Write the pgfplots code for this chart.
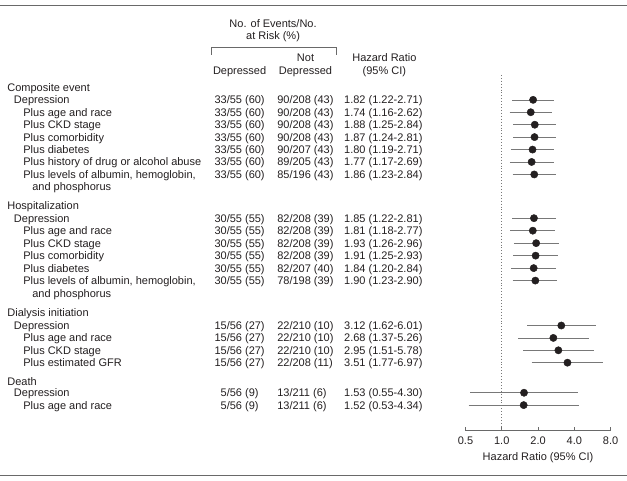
\documentclass[border=0pt]{standalone}
\usepackage{pgfplots}
\pgfplotsset{compat=1.18}
\usepackage{fontspec}
\setmainfont{Liberation Sans}
\definecolor{cigray}{RGB}{120,120,120}
\definecolor{rulegray}{RGB}{105,105,105}
\definecolor{txt}{RGB}{35,31,32}

% one text row of the table: y, indent, label, depressed, not depressed, HR
\newcommand{\rowtxt}[6]{%
  \node[lab, anchor=base west] at (#2,#1-4) {#3};
  \node[lab, anchor=base] at (239.5,#1-4) {#4};
  \node[lab, anchor=base west] at (277,#1-4) {#5};
  \node[lab, anchor=base west] at (344,#1-4) {#6};}
% confidence interval segment: y, lower, upper
\newcommand{\ci}[3]{\addplot[cigray, line width=0.6pt] coordinates {(#2,#1) (#3,#1)};}

\begin{document}
\begin{tikzpicture}[x=0.03cm, y=0.03cm,
  lab/.style={text=txt, inner sep=0pt, font=\fontsize{9.4}{11}\selectfont}]
\path (0,0) rectangle (627,-481);
\draw[rulegray, line width=0.8pt] (0,-5) -- (627,-5);
\draw[rulegray, line width=0.8pt] (0,-476) -- (627,-476);

% column heads
\node[lab, anchor=base] at (273,-27.3) {No. of Events/No.};
\node[lab, anchor=base] at (273,-40) {at Risk (\%)};
\draw[rulegray, line width=0.5pt] (210.7,-55) -- (210.7,-47.5) -- (336,-47.5) -- (336,-55);
\node[lab, anchor=base] at (305.5,-61.7) {Not};
\node[lab, anchor=base] at (239.5,-75) {Depressed};
\node[lab, anchor=base] at (305.5,-75) {Depressed};
\node[lab, anchor=base] at (384.5,-61.7) {Hazard Ratio};
\node[lab, anchor=base] at (384.5,-75) {(95\% CI)};

% Composite event
\node[lab, anchor=base west] at (6.7,-91.3) {Composite event};
\rowtxt{-100}{13.3}{Depression}{33/55 (60)}{90/208 (43)}{1.82 (1.22-2.71)}
\rowtxt{-112.4}{22.7}{Plus age and race}{33/55 (60)}{90/208 (43)}{1.74 (1.16-2.62)}
\rowtxt{-124.9}{22.7}{Plus CKD stage}{33/55 (60)}{90/208 (43)}{1.88 (1.25-2.84)}
\rowtxt{-137.3}{22.7}{Plus comorbidity}{33/55 (60)}{90/208 (43)}{1.87 (1.24-2.81)}
\rowtxt{-149.8}{22.7}{Plus diabetes}{33/55 (60)}{90/207 (43)}{1.80 (1.19-2.71)}
\rowtxt{-162.2}{22.7}{Plus history of drug or alcohol abuse}{33/55 (60)}{89/205 (43)}{1.77 (1.17-2.69)}
\rowtxt{-174.7}{22.7}{Plus levels of albumin, hemoglobin,}{33/55 (60)}{85/196 (43)}{1.86 (1.23-2.84)}
\node[lab, anchor=base west] at (31.7,-191.2) {and phosphorus};

% Hospitalization
\node[lab, anchor=base west] at (6.7,-210) {Hospitalization};
\rowtxt{-218.5}{13.3}{Depression}{30/55 (55)}{82/208 (39)}{1.85 (1.22-2.81)}
\rowtxt{-231}{22.7}{Plus age and race}{30/55 (55)}{82/208 (39)}{1.81 (1.18-2.77)}
\rowtxt{-243.5}{22.7}{Plus CKD stage}{30/55 (55)}{82/208 (39)}{1.93 (1.26-2.96)}
\rowtxt{-256}{22.7}{Plus comorbidity}{30/55 (55)}{82/208 (39)}{1.91 (1.25-2.93)}
\rowtxt{-268.5}{22.7}{Plus diabetes}{30/55 (55)}{82/207 (40)}{1.84 (1.20-2.84)}
\rowtxt{-281}{22.7}{Plus levels of albumin, hemoglobin,}{30/55 (55)}{78/198 (39)}{1.90 (1.23-2.90)}
\node[lab, anchor=base west] at (31.7,-297.6) {and phosphorus};

% Dialysis initiation
\node[lab, anchor=base west] at (6.7,-317.3) {Dialysis initiation};
\rowtxt{-326}{13.3}{Depression}{15/56 (27)}{22/210 (10)}{3.12 (1.62-6.01)}
\rowtxt{-338.4}{22.7}{Plus age and race}{15/56 (27)}{22/210 (10)}{2.68 (1.37-5.26)}
\rowtxt{-350.8}{22.7}{Plus CKD stage}{15/56 (27)}{22/210 (10)}{2.95 (1.51-5.78)}
\rowtxt{-363.2}{22.7}{Plus estimated GFR}{15/56 (27)}{22/208 (11)}{3.51 (1.77-6.97)}

% Death
\node[lab, anchor=base west] at (6.7,-385.7) {Death};
\rowtxt{-393.3}{13.3}{Depression}{5/56 (9)}{13/211 (6)}{1.53 (0.55-4.30)}
\rowtxt{-405.7}{22.7}{Plus age and race}{5/56 (9)}{13/211 (6)}{1.52 (0.53-4.34)}

\begin{axis}[
  at={(13.971cm,-12.921cm)}, anchor=south west,
  scale only axis, width=4.359cm, height=10.671cm,
  xmode=log, log basis x=2, xmin=0.5, xmax=8,
  ymin=-430.7, ymax=-75,
  axis x line*=bottom, axis y line=none,
  axis line style={rulegray, line width=0.5pt},
  xtick={0.5,1,2,4,8}, xticklabels={0.5,1.0,2.0,4.0,8.0},
  minor xtick={}, tick align=inside, major tick length=0.1cm,
  tick style={rulegray, line width=0.5pt},
  xticklabel style={anchor=base, yshift=-0.43cm, text=txt,
    font=\fontsize{9.4}{11}\selectfont},
  clip=false,
]
\addplot[cigray, dotted, line width=0.5pt] coordinates {(1,-75) (1,-430.7)};
\ci{-100}{1.22}{2.71}
\ci{-112.4}{1.16}{2.62}
\ci{-124.9}{1.25}{2.84}
\ci{-137.3}{1.24}{2.81}
\ci{-149.8}{1.19}{2.71}
\ci{-162.2}{1.17}{2.69}
\ci{-174.7}{1.23}{2.84}
\ci{-218.5}{1.22}{2.81}
\ci{-231}{1.18}{2.77}
\ci{-243.5}{1.26}{2.96}
\ci{-256}{1.25}{2.93}
\ci{-268.5}{1.20}{2.84}
\ci{-281}{1.23}{2.90}
\ci{-326}{1.62}{6.01}
\ci{-338.4}{1.37}{5.26}
\ci{-350.8}{1.51}{5.78}
\ci{-363.2}{1.77}{6.97}
\ci{-393.3}{0.55}{4.30}
\ci{-405.7}{0.53}{4.34}
\addplot[only marks, mark=*, mark size=3.1pt, color=txt, fill=txt] coordinates {
  (1.82,-100) (1.74,-112.4) (1.88,-124.9) (1.87,-137.3) (1.80,-149.8) (1.77,-162.2) (1.86,-174.7)
  (1.85,-218.5) (1.81,-231) (1.93,-243.5) (1.91,-256) (1.84,-268.5) (1.90,-281)
  (3.12,-326) (2.68,-338.4) (2.95,-350.8) (3.51,-363.2)
  (1.53,-393.3) (1.52,-405.7) };
\end{axis}
\node[lab, anchor=base] at (538.35,-461.3) {Hazard Ratio (95\% CI)};
\end{tikzpicture}
\end{document}
